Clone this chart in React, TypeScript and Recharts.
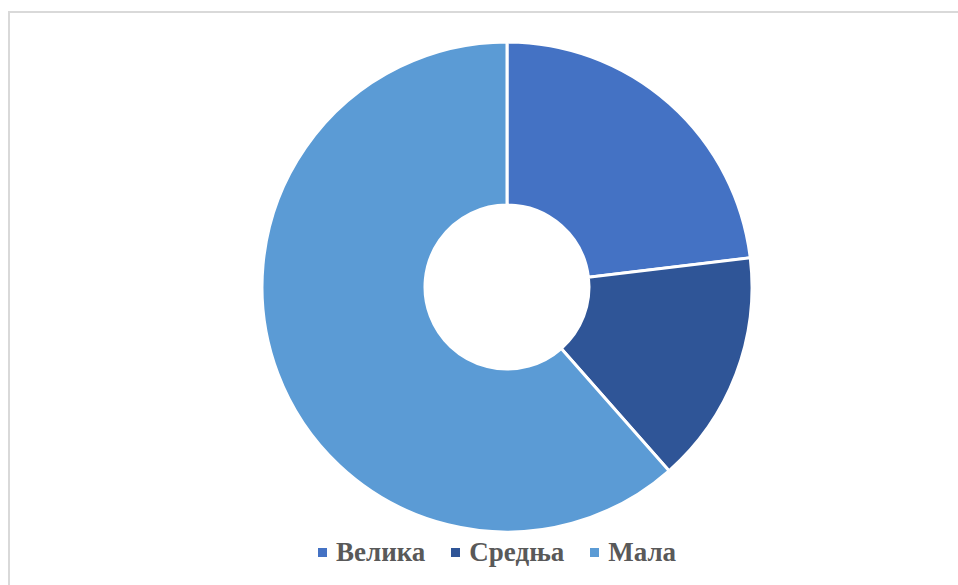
import { PieChart, Pie, Cell, Legend } from 'recharts';

// Величина предузећа — удео (%)
const categories = ['Велика', 'Средња', 'Мала'];
const shares = [23.1, 15.4, 61.5];
const colors = ['#4472C4', '#2F5597', '#5B9BD5'];

const data = categories.map((name, i) => ({ name, value: shares[i] }));

function renderLegend() {
  return (
    <div style={{ display: 'flex', alignItems: 'center', gap: 26 }}>
      {categories.map((name, i) => (
        <div key={name} style={{ display: 'flex', alignItems: 'center' }}>
          <span style={{ width: 9, height: 9, background: colors[i], display: 'inline-block', marginRight: 9 }} />
          <span
            style={{
              fontFamily: 'Liberation Serif, Times New Roman, serif',
              fontWeight: 700,
              fontSize: 27,
              color: '#595959',
              lineHeight: '30px',
            }}
          >
            {name}
          </span>
        </div>
      ))}
    </div>
  );
}

export default function App() {
  return (
    <div style={{ position: 'fixed', left: 0, top: 0, width: 958, height: 585, background: '#fff' }}>
      {/* рамка графикона */}
      <div
        style={{
          position: 'absolute', left: 8, top: 11, right: 0, bottom: 0,
          borderTop: '2px solid #d9d9d9', borderLeft: '2px solid #d9d9d9',
        }}
      />
      <div style={{ position: 'absolute', left: 0, top: 0 }}>
        <PieChart width={958} height={585} margin={{ top: 0, right: 0, bottom: 0, left: 0 }}>
          <Pie
            data={data}
            dataKey="value"
            nameKey="name"
            cx={507}
            cy={287}
            innerRadius={82}
            outerRadius={245}
            startAngle={90}
            endAngle={-270}
            stroke="#ffffff"
            strokeWidth={3}
            isAnimationActive={false}
          >
            {data.map((d, i) => (
              <Cell key={d.name} fill={colors[i]} />
            ))}
          </Pie>
          <Legend
            content={renderLegend}
            wrapperStyle={{ left: 318, top: 537, width: 'auto' }}
          />
        </PieChart>
      </div>
    </div>
  );
}
